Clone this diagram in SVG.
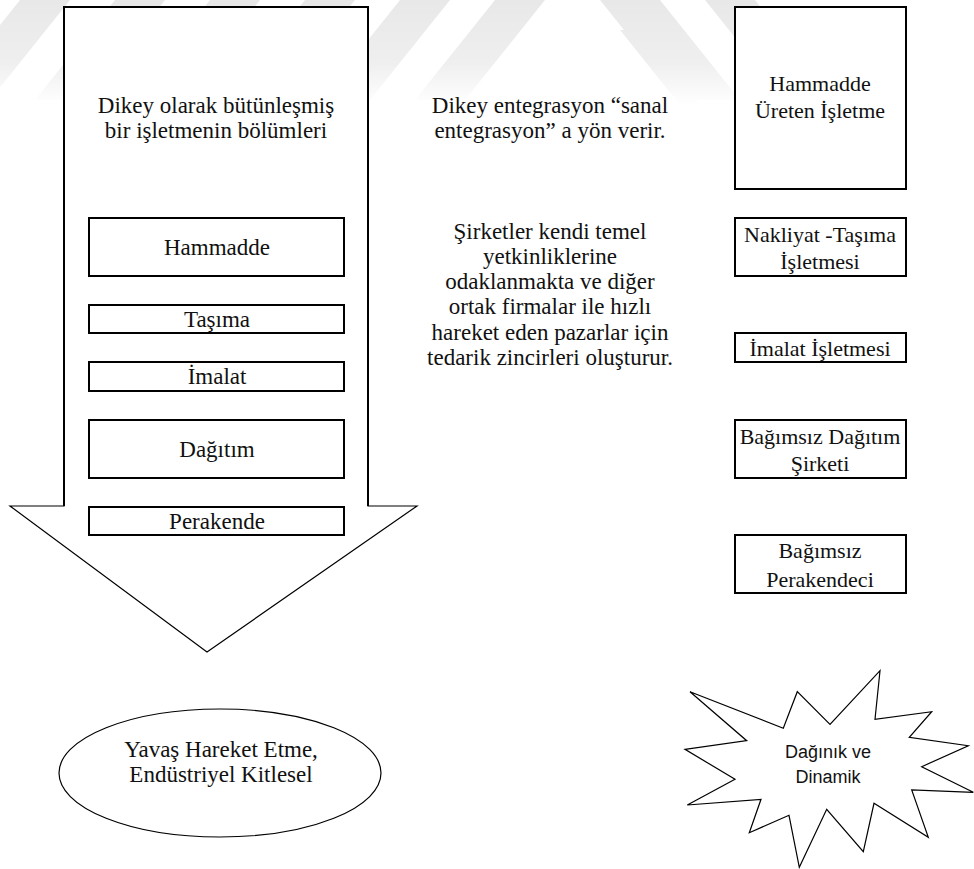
<svg xmlns="http://www.w3.org/2000/svg" width="974" height="869" viewBox="0 0 974 869">
  <defs>
    <style>
      .serif { font-family: "Liberation Serif", "DejaVu Serif", serif; font-size: 23px; fill: #111; text-anchor: middle; }
      .firm .serif { font-size: 22px; }
      .sans { font-family: "Liberation Sans", "Open Sans", sans-serif; font-size: 18px; fill: #111; text-anchor: middle; }
      .box { fill: #fff; stroke: #000; stroke-width: 2; }
      .thin { fill: #fff; stroke: #000; stroke-width: 1.2; }
      .mark { fill: #e8e8e8; }
    </style>
    <linearGradient id="fade" x1="0" y1="0" x2="0" y2="1">
      <stop offset="0" stop-color="#fff" stop-opacity="1"/>
      <stop offset="0.6" stop-color="#fff" stop-opacity="0.7"/>
      <stop offset="1" stop-color="#fff" stop-opacity="0"/>
    </linearGradient>
    <mask id="fadeMask" maskUnits="userSpaceOnUse" x="0" y="0" width="974" height="105">
      <rect x="0" y="0" width="974" height="105" fill="url(#fade)"/>
    </mask>
  </defs>

  <rect width="974" height="869" fill="#fff"/>

  <!-- faint striped emblem along the top edge -->
  <g id="emblem" mask="url(#fadeMask)">
    <polygon class="mark" points="-60,100 -10,100 70,0 20,0"/>
    <polygon class="mark" points="35,100 85,100 165,0 115,0"/>
    <polygon class="mark" points="130,100 180,100 260,0 210,0"/>
    <polygon class="mark" points="225,100 275,100 355,0 305,0"/>
    <polygon class="mark" points="320,100 370,100 450,0 400,0"/>
    <polygon class="mark" points="415,100 465,100 545,0 495,0"/>
    <polygon class="mark" points="600,0 660,0 740,100 680,100"/>
    <polygon class="mark" points="705,0 755,0 835,100 785,100"/>
    <polygon class="mark" points="620,30 640,30 700,105 680,105"/>
  </g>

  <!-- big downward arrow of the integrated firm -->
  <g id="flow-arrow">
    <polygon class="thin" points="64,7 368,7 368,506 417,506 207,652 10,506 64,506"/>
    <polyline points="64,506 64,7 368,7 368,506" fill="none" stroke="#000" stroke-width="2"/>
    <text class="serif" x="216" y="113">Dikey olarak bütünleşmiş</text>
    <text class="serif" x="216" y="138">bir işletmenin bölümleri</text>
  </g>

  <g id="stage-hammadde">
    <rect class="box" x="89" y="218" width="255" height="58"/>
    <text class="serif" x="217" y="255">Hammadde</text>
  </g>
  <g id="stage-tasima">
    <rect class="box" x="89" y="305" width="255" height="28"/>
    <text class="serif" x="217" y="327">Taşıma</text>
  </g>
  <g id="stage-imalat">
    <rect class="box" x="89" y="362" width="255" height="29"/>
    <text class="serif" x="217" y="384">İmalat</text>
  </g>
  <g id="stage-dagitim">
    <rect class="box" x="89" y="420" width="255" height="58"/>
    <text class="serif" x="217" y="457">Dağıtım</text>
  </g>
  <g id="stage-perakende">
    <rect class="box" x="89" y="507" width="255" height="28"/>
    <text class="serif" x="217" y="529">Perakende</text>
  </g>

  <!-- middle column notes -->
  <g id="note-virtual">
    <text class="serif" x="550" y="113">Dikey entegrasyon “sanal</text>
    <text class="serif" x="550" y="138">entegrasyon” a yön verir.</text>
  </g>
  <g id="note-companies">
    <text class="serif" x="550" y="239">Şirketler kendi temel</text>
    <text class="serif" x="550" y="264">yetkinliklerine</text>
    <text class="serif" x="550" y="289">odaklanmakta ve diğer</text>
    <text class="serif" x="550" y="314">ortak firmalar ile hızlı</text>
    <text class="serif" x="550" y="340">hareket eden pazarlar için</text>
    <text class="serif" x="550" y="365">tedarik zincirleri oluşturur.</text>
  </g>

  <!-- right column: independent firms -->
  <g id="firm-raw" class="firm">
    <rect class="box" x="735" y="7" width="171" height="182"/>
    <text class="serif" x="820" y="91">Hammadde</text>
    <text class="serif" x="820" y="118">Üreten İşletme</text>
  </g>
  <g id="firm-transport" class="firm">
    <rect class="box" x="735" y="218" width="171" height="58"/>
    <text class="serif" x="820" y="242">Nakliyat -Taşıma</text>
    <text class="serif" x="820" y="269">İşletmesi</text>
  </g>
  <g id="firm-manufacturing" class="firm">
    <rect class="box" x="735" y="333" width="171" height="29"/>
    <text class="serif" x="820" y="356">İmalat İşletmesi</text>
  </g>
  <g id="firm-distribution" class="firm">
    <rect class="box" x="735" y="420" width="171" height="58"/>
    <text class="serif" x="820" y="444">Bağımsız Dağıtım</text>
    <text class="serif" x="820" y="471">Şirketi</text>
  </g>
  <g id="firm-retail" class="firm">
    <rect class="box" x="735" y="535" width="171" height="58"/>
    <text class="serif" x="820" y="558">Bağımsız</text>
    <text class="serif" x="820" y="587">Perakendeci</text>
  </g>

  <!-- outcomes -->
  <g id="outcome-slow">
    <ellipse class="thin" cx="220" cy="773" rx="161" ry="64"/>
    <text class="serif" x="221" y="757">Yavaş Hareket Etme,</text>
    <text class="serif" x="221" y="782">Endüstriyel Kitlesel</text>
  </g>
  <g id="outcome-dynamic">
    <polygon class="thin" points="690,691.7 783.3,728.3 797.3,691.7 830,724.3 880,670.7 875,719.3 931.7,711.7 909.3,737.3 968.3,745.7 921.7,766.7 973.3,792.3 911.7,790 928.3,837.3 874,803.3 863.3,851.7 826.7,809.3 799.3,867.3 789,815.3 749.3,832.7 761,799.3 687.3,805 735,779.3 685,749.3 746.7,740.7"/>
    <text class="sans" x="828" y="758">Dağınık ve</text>
    <text class="sans" x="828" y="783">Dinamik</text>
  </g>

  <g id="connectors"/>
</svg>
